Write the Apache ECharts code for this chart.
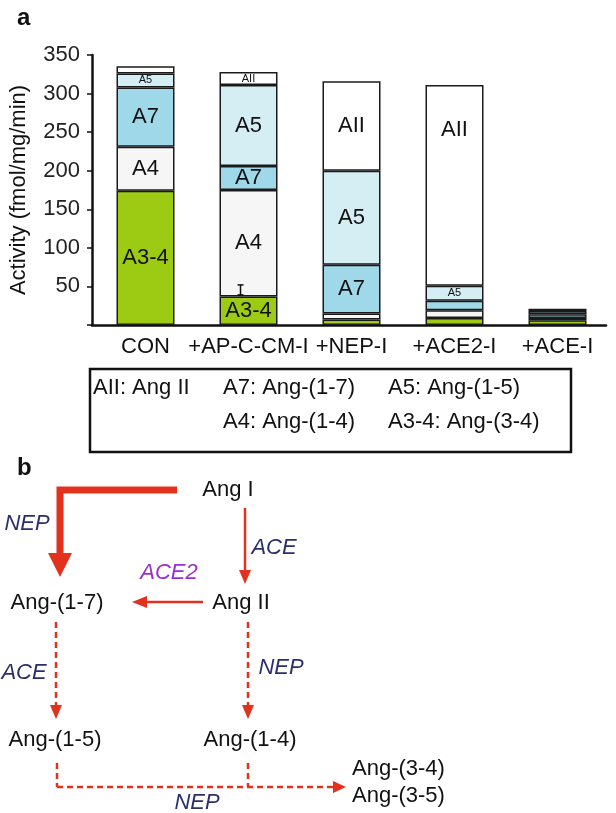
<!DOCTYPE html>
<html><head><meta charset="utf-8">
<script src="https://cdn.jsdelivr.net/npm/echarts/dist/echarts.min.js"></script>
<style>html,body{margin:0;padding:0;background:#fff}#c{width:616px;height:813px}</style>
</head><body><div id="c"></div>
<script>
// ---------- data ----------
const categories = ['CON', '+AP-C-CM-I', '+NEP-I', '+ACE2-I', '+ACE-I'];
const seriesNames = ['A3-4', 'A4', 'A7', 'A5', 'AII'];
const A3_4 = [174, 37, 7, 9, 6];
const A4   = [57, 138, 8, 10, 3];
const A7   = [77, 31, 63, 12.5, 5];
const A5   = [18, 105, 122, 19.5, 4];
const AII  = [9.5, 17, 116, 260, 3];
const errorBar = [[1, 39, 52]]; // [category index, low, high]
const yMax = 350, yStep = 50;
const legendRow1 = ['AII: Ang II', 'A7: Ang-(1-7)', 'A5: Ang-(1-5)'];
const legendRow2 = ['', 'A4: Ang-(1-4)', 'A3-4: Ang-(3-4)'];

// ---------- styles ----------
const FONT = '"Liberation Sans", Arial, Helvetica, sans-serif';
const FS = 22;
const colors = {'A3-4': '#9dcb14', 'A4': '#f6f6f6', 'A7': '#9fd8e8', 'A5': '#d4eef3', 'AII': '#ffffff'};
// label mode per segment: L = large centred, T = large near top, S = small, '' = none
const labelMode = {
  'A3-4': ['L', 'L', '', '', ''],
  'A4':   ['L', 'L', '', '', ''],
  'A7':   ['L', 'L', 'L', '', ''],
  'A5':   ['S', 'L', 'L', 'S', ''],
  'AII':  ['', 'S', 'L', 'T', '']
};
const seriesData = {'A3-4': A3_4, 'A4': A4, 'A7': A7, 'A5': A5, 'AII': AII};

function labelFor(mode, name) {
  if (!mode) return {show: false};
  const l = {show: true, position: 'inside', formatter: name, color: '#111',
             fontFamily: FONT, fontSize: mode === 'S' ? 11 : FS};
  if (mode === 'T') { l.position = 'insideTop'; l.distance = 34; }
  return l;
}

const barSeries = seriesNames.map(n => ({
  type: 'bar', name: n, stack: 'total', xAxisIndex: 0, yAxisIndex: 0, barWidth: 58,
  itemStyle: {color: colors[n], borderColor: '#1a1a1a', borderWidth: 1.5},
  emphasis: {disabled: true},
  data: seriesData[n].map((v, i) => ({value: v, label: labelFor(labelMode[n][i], n)}))
}));

const errSeries = {
  type: 'custom', xAxisIndex: 0, yAxisIndex: 0, z: 10, data: errorBar,
  renderItem: (params, api) => {
    const p1 = api.coord([api.value(0), api.value(1)]);
    const p2 = api.coord([api.value(0), api.value(2)]);
    const x = p1[0] - 8;
    const st = {stroke: '#111', lineWidth: 1.5};
    return {type: 'group', children: [
      {type: 'line', shape: {x1: x, y1: p1[1], x2: x, y2: p2[1]}, style: st},
      {type: 'line', shape: {x1: x - 3, y1: p1[1], x2: x + 3, y2: p1[1]}, style: st},
      {type: 'line', shape: {x1: x - 3, y1: p2[1], x2: x + 3, y2: p2[1]}, style: st}
    ]};
  }
};

// ---------- diagram (panel b) ----------
const RED = '#e2321e', NAVY = '#2a2f6c', PURPLE = '#9b30c8';
function txt(x, y, s, opt) {
  opt = opt || {};
  return {type: 'text', x: x, y: y, style: {text: s, fill: opt.fill || '#111', fontSize: opt.size || FS,
    fontFamily: FONT, fontStyle: opt.italic ? 'italic' : 'normal', fontWeight: opt.bold ? 'bold' : 'normal',
    textAlign: opt.align || 'center', textVerticalAlign: 'middle'}};
}
function ln(x1, y1, x2, y2, w, dashed) {
  return {type: 'line', shape: {x1, y1, x2, y2},
    style: {stroke: RED, lineWidth: w, lineDash: dashed ? [6, 4] : null}};
}
function head(points) {
  return {type: 'polygon', shape: {points: points}, style: {fill: RED}};
}
const legendCols = [93, 223, 388];
const graphics = [
  txt(17, 18, 'a', {bold: true, size: 24, align: 'left'}),
  // legend box
  {type: 'rect', shape: {x: 90, y: 369, width: 481, height: 83}, style: {fill: 'none', stroke: '#111', lineWidth: 2.5}},
  ...legendRow1.map((s, i) => txt(legendCols[i], 388, s, {align: 'left'})),
  ...legendRow2.map((s, i) => txt(legendCols[i], 422, s, {align: 'left'})),
  txt(17, 468, 'b', {bold: true, size: 24, align: 'left'}),
  // arrows
  {type: 'polyline', shape: {points: [[177, 490], [60, 490], [60, 554]]}, style: {stroke: RED, lineWidth: 7, fill: null}},
  head([[48, 553], [72, 553], [60, 577]]),
  ln(245, 508, 245, 572, 2.5), head([[239, 570], [251, 570], [245, 584]]),
  ln(203, 602, 145, 602, 2.5), head([[147, 596], [147, 608], [132, 602]]),
  ln(56, 622, 56, 707, 2.5, true), head([[50, 705], [62, 705], [56, 719]]),
  ln(248, 622, 248, 707, 2.5, true), head([[242, 705], [254, 705], [248, 719]]),
  ln(57, 763, 57, 787, 2.5, true), ln(248, 763, 248, 787, 2.5, true),
  ln(57, 787, 334, 787, 2.5, true), head([[333, 781], [333, 793], [346, 787]]),
  // labels
  txt(228, 490, 'Ang I'),
  txt(57, 603, 'Ang-(1-7)'),
  txt(241, 603, 'Ang II'),
  txt(55, 740, 'Ang-(1-5)'),
  txt(250, 740, 'Ang-(1-4)'),
  txt(352, 769, 'Ang-(3-4)', {align: 'left'}),
  txt(352, 796, 'Ang-(3-5)', {align: 'left'}),
  txt(27, 524, 'NEP', {italic: true, fill: NAVY}),
  txt(274, 548, 'ACE', {italic: true, fill: NAVY}),
  txt(169, 573, 'ACE2', {italic: true, fill: PURPLE}),
  txt(24, 673, 'ACE', {italic: true, fill: NAVY}),
  txt(281, 668, 'NEP', {italic: true, fill: NAVY}),
  txt(197, 803, 'NEP', {italic: true, fill: NAVY})
];

const chart = echarts.init(document.getElementById('c'), null, {renderer: 'canvas'});
chart.setOption({
  animation: false,
  backgroundColor: '#fff',
  textStyle: {fontFamily: FONT},
  grid: [
    {left: 94, right: 7, top: 55, height: 270},
    {left: 86, right: 10, top: 55, height: 270}
  ],
  xAxis: [
    {type: 'category', gridIndex: 0, data: categories,
     axisLine: {show: false}, axisTick: {show: false},
     axisLabel: {fontSize: FS, color: '#111', margin: 11, fontFamily: FONT, interval: 0}},
    {type: 'value', gridIndex: 1, min: 0, max: 1,
     axisLine: {show: true, lineStyle: {color: '#111', width: 2.5}},
     axisTick: {show: false}, axisLabel: {show: false}, splitLine: {show: false}}
  ],
  yAxis: [
    {type: 'value', gridIndex: 0, min: 0, max: yMax, interval: yStep, show: false},
    {type: 'value', gridIndex: 1, min: 0, max: yMax, interval: yStep,
     name: 'Activity (fmol/mg/min)', nameLocation: 'middle', nameGap: 62,
     nameTextStyle: {fontSize: FS, color: '#111', fontFamily: FONT},
     axisLine: {show: true, lineStyle: {color: '#111', width: 2.5}},
     axisTick: {show: true, length: 5, lineStyle: {color: '#111', width: 1.5}},
     axisLabel: {fontSize: FS, color: '#222', margin: 12, fontFamily: FONT,
                 formatter: v => (v === 0 ? '' : String(v))},
     splitLine: {show: false}}
  ],
  series: [...barSeries, errSeries],
  graphic: graphics
});
</script></body></html>
